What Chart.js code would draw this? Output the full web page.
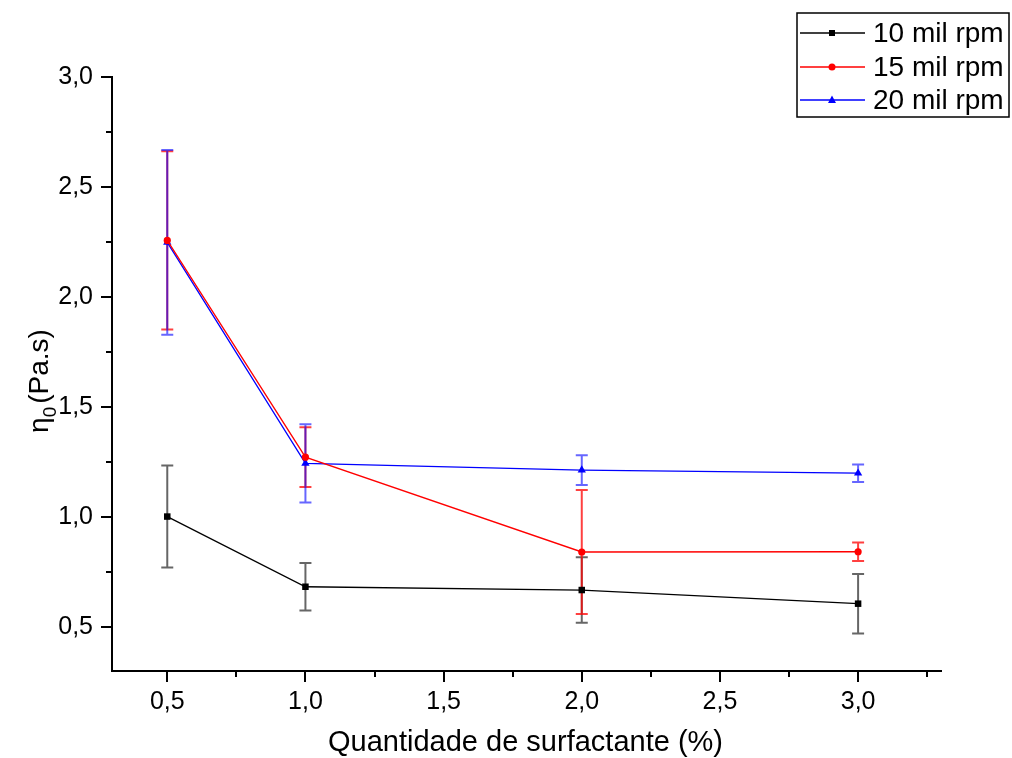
<!DOCTYPE html>
<html>
<head>
<meta charset="utf-8">
<title>Viscosidade vs surfactante</title>
<script src="https://cdn.jsdelivr.net/npm/chart.js@4.4.1/dist/chart.umd.min.js"></script>
<style>
  html, body { margin: 0; padding: 0; background: #fff; }
  #wrap { width: 1012px; height: 758px; position: relative; }
</style>
</head>
<body>
<div id="wrap"><canvas id="c" width="1012" height="758"></canvas></div>
<script>
// Surfactant amount (%)
const surfactant = [0.5, 1.0, 2.0, 3.0];

// Zero-shear viscosity (Pa.s) and standard deviations per stirring speed
const rpm10 = [1.002, 0.683, 0.668, 0.606];
const rpm10Err = [0.232, 0.108, 0.149, 0.135];
const rpm15 = [2.257, 1.272, 0.841, 0.842];
const rpm15Err = [0.405, 0.136, 0.282, 0.042];
const rpm20 = [2.248, 1.244, 1.213, 1.199];
const rpm20Err = [0.420, 0.178, 0.068, 0.040];

const seriesNames = ['10 mil rpm', '15 mil rpm', '20 mil rpm'];
const majorTicks = [0.5, 1.0, 1.5, 2.0, 2.5, 3.0];
const minorTicksX = [0.75, 1.25, 1.75, 2.25, 2.75, 3.25];
const minorTicksY = [0.75, 1.25, 1.75, 2.25, 2.75];

const FONT = '"Liberation Sans", Arial, sans-serif';

function pts(values) {
  return surfactant.map((x, i) => ({ x: x, y: values[i] }));
}
function fmt(v) {
  return v.toFixed(1).replace('.', ',');
}

// Error bars, minor ticks, axis titles and legend box
const extras = {
  id: 'extras',
  beforeDatasetsDraw(chart) {
    const ctx = chart.ctx;
    const xs = chart.scales.x, ys = chart.scales.y;
    const errs = [rpm10Err, rpm15Err, rpm20Err];
    const errColors = ['rgba(0,0,0,0.6)', 'rgba(255,0,0,0.75)', 'rgba(0,0,255,0.6)'];
    ctx.save();
    chart.data.datasets.forEach((ds, di) => {
      ctx.strokeStyle = errColors[di];
      ctx.lineWidth = 2;
      ds.data.forEach((p, i) => {
        const e = errs[di][i];
        const px = xs.getPixelForValue(p.x);
        const top = ys.getPixelForValue(p.y + e);
        const bot = ys.getPixelForValue(p.y - e);
        ctx.beginPath();
        ctx.moveTo(px, top); ctx.lineTo(px, bot);
        ctx.moveTo(px - 6, top); ctx.lineTo(px + 6, top);
        ctx.moveTo(px - 6, bot); ctx.lineTo(px + 6, bot);
        ctx.stroke();
      });
    });
    ctx.restore();
  },
  afterDraw(chart) {
    const ctx = chart.ctx;
    const xs = chart.scales.x, ys = chart.scales.y;
    const area = chart.chartArea;
    ctx.save();
    // minor ticks
    ctx.strokeStyle = '#000';
    ctx.lineWidth = 2;
    ctx.beginPath();
    minorTicksX.forEach(v => {
      const px = Math.round(xs.getPixelForValue(v));
      ctx.moveTo(px, area.bottom); ctx.lineTo(px, area.bottom + 6);
    });
    minorTicksY.forEach(v => {
      const py = Math.round(ys.getPixelForValue(v));
      ctx.moveTo(area.left, py); ctx.lineTo(area.left - 6, py);
    });
    ctx.stroke();

    // x-axis title
    ctx.fillStyle = '#000';
    ctx.font = '29px ' + FONT;
    ctx.textAlign = 'center';
    ctx.textBaseline = 'alphabetic';
    ctx.fillText('Quantidade de surfactante (%)', (area.left + area.right) / 2 - 1, 751);

    // y-axis title with subscript
    ctx.save();
    ctx.translate(48, (area.top + area.bottom) / 2 + 7);
    ctx.rotate(-Math.PI / 2);
    ctx.textAlign = 'left';
    const eta = '\u03B7';
    ctx.font = '28px ' + FONT;
    const wEta = ctx.measureText(eta).width;
    ctx.font = '19px ' + FONT;
    const wSub = ctx.measureText('0').width;
    ctx.font = '28px ' + FONT;
    const wRest = ctx.measureText('(Pa.s)').width;
    const total = wEta + wSub + 3 + wRest;
    const x0 = -total / 2;
    ctx.fillText(eta, x0, 0);
    ctx.font = '19px ' + FONT;
    ctx.fillText('0', x0 + wEta, 8);
    ctx.font = '28px ' + FONT;
    ctx.fillText('(Pa.s)', x0 + wEta + wSub + 3, 0);
    ctx.restore();

    // legend box
    const lx = 797, ly = 13, lw = 212, lh = 104;
    ctx.lineWidth = 1.5;
    ctx.strokeStyle = '#000';
    ctx.strokeRect(lx, ly, lw, lh);
    const rows = [33, 67, 100];
    chart.data.datasets.forEach((ds, i) => {
      const y = rows[i];
      ctx.strokeStyle = ds.borderColor;
      ctx.lineWidth = 1.3;
      ctx.beginPath();
      ctx.moveTo(800, y); ctx.lineTo(865, y);
      ctx.stroke();
      ctx.fillStyle = ds.borderColor;
      const mx = 832;
      if (ds.pointStyle === 'rect') {
        ctx.fillRect(mx - 3, y - 3, 6, 6);
      } else if (ds.pointStyle === 'circle') {
        ctx.beginPath(); ctx.arc(mx, y, 3.5, 0, Math.PI * 2); ctx.fill();
      } else {
        ctx.beginPath();
        ctx.moveTo(mx, y - 4.5); ctx.lineTo(mx + 4, y + 3); ctx.lineTo(mx - 4, y + 3);
        ctx.closePath(); ctx.fill();
      }
      ctx.fillStyle = '#000';
      ctx.font = '28px ' + FONT;
      ctx.textAlign = 'left';
      ctx.textBaseline = 'middle';
      ctx.fillText(seriesNames[i], 873, y + 1);
    });
    ctx.restore();
  }
};

const styles = [
  { color: '#000000', point: 'rect', radius: 4.6 },
  { color: '#ff0000', point: 'circle', radius: 3.6 },
  { color: '#0000ff', point: 'triangle', radius: 4.8 }
];
const seriesValues = [rpm10, rpm15, rpm20];

new Chart(document.getElementById('c'), {
  type: 'line',
  data: {
    datasets: seriesValues.map((vals, i) => ({
      label: seriesNames[i],
      data: pts(vals),
      borderColor: styles[i].color,
      backgroundColor: styles[i].color,
      borderWidth: 1.3,
      pointStyle: styles[i].point,
      pointRadius: styles[i].radius,
      pointBorderWidth: 0,
      tension: 0
    }))
  },
  options: {
    responsive: false,
    animation: false,
    devicePixelRatio: 1,
    layout: { padding: { left: 0, top: 77, right: 71, bottom: 0 } },
    plugins: { legend: { display: false }, tooltip: { enabled: false } },
    scales: {
      x: {
        type: 'linear',
        min: 0.3, max: 3.3,
        afterBuildTicks: s => { s.ticks = majorTicks.map(v => ({ value: v })); },
        afterFit: s => { s.height = 87; },
        border: { color: '#000', width: 2 },
        grid: { drawOnChartArea: false, tickLength: 11, tickColor: '#000', lineWidth: 2 },
        ticks: { color: '#000', font: { family: FONT, size: 25 }, padding: 5, callback: v => fmt(v), maxRotation: 0 }
      },
      y: {
        type: 'linear',
        min: 0.3, max: 3.0,
        afterBuildTicks: s => { s.ticks = majorTicks.map(v => ({ value: v })); },
        afterFit: s => { s.width = 112; },
        border: { color: '#000', width: 2 },
        grid: { drawOnChartArea: false, tickLength: 11, tickColor: '#000', lineWidth: 2 },
        ticks: { color: '#000', font: { family: FONT, size: 25 }, padding: 8, callback: v => fmt(v) }
      }
    }
  },
  plugins: [extras]
});
</script>
</body>
</html>
